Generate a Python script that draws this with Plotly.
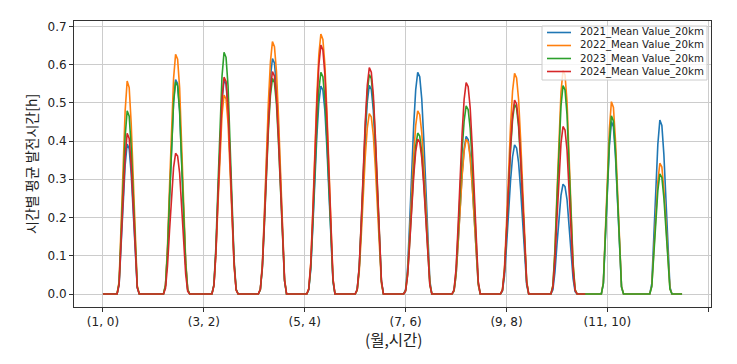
import plotly.graph_objects as go

# (month, hour) multi-index labels
months = list(range(1, 13))
hours = list(range(24))
index_labels = [(m, h) for m in months for h in hours]

Z = 0
# Hourly values per month, 24 values per row (hours 0..23)
y2021 = [
    [Z,Z,Z,Z,Z,Z,Z,Z, .024,.118,.235,.337,.392,.380,.314,.204,.086,.016, Z,Z,Z,Z,Z,Z],
    [Z,Z,Z,Z,Z,Z,Z, .022,.112,.252,.393,.505,.561,.550,.482,.359,.213,.079,.011, Z,Z,Z,Z,Z],
    [Z,Z,Z,Z,Z,Z,Z, .022,.112,.252,.392,.504,.560,.549,.482,.358,.213,.078,.011, Z,Z,Z,Z,Z],
    [Z,Z,Z,Z,Z,Z, .012,.074,.197,.339,.468,.567,.616,.604,.542,.431,.290,.142,.037, Z,Z,Z,Z,Z],
    [Z,Z,Z,Z,Z,Z, .011,.065,.174,.299,.413,.500,.544,.533,.479,.381,.256,.125,.033, Z,Z,Z,Z,Z],
    [Z,Z,Z,Z,Z,Z, .011,.066,.175,.300,.415,.502,.546,.535,.480,.382,.257,.126,.033, Z,Z,Z,Z,Z],
    [Z,Z,Z,Z,Z,Z, .012,.070,.186,.319,.441,.534,.580,.568,.510,.406,.273,.133,.035, Z,Z,Z,Z,Z],
    [Z,Z,Z,Z,Z,Z, .008,.049,.132,.227,.313,.379,.412,.404,.363,.288,.194,.095,.025, Z,Z,Z,Z,Z],
    [Z,Z,Z,Z,Z,Z, .008,.047,.125,.215,.296,.359,.390,.382,.343,.273,.183,.090,.023, Z,Z,Z,Z,Z],
    [Z,Z,Z,Z,Z,Z,Z, .011,.057,.129,.201,.258,.287,.281,.247,.184,.109,.040,.006, Z,Z,Z,Z,Z],
    [Z,Z,Z,Z,Z,Z,Z,Z, .027,.135,.271,.388,.451,.437,.361,.235,.099,.018, Z,Z,Z,Z,Z,Z],
    [Z,Z,Z,Z,Z,Z,Z,Z, .027,.137,.273,.391,.455,.441,.364,.237,.100,.018, Z,Z,Z,Z,Z,Z],
]
y2022 = [
    [Z,Z,Z,Z,Z,Z,Z,Z, .033,.167,.334,.479,.557,.540,.446,.290,.123,.022, Z,Z,Z,Z,Z,Z],
    [Z,Z,Z,Z,Z,Z,Z, .025,.125,.282,.439,.564,.627,.614,.539,.401,.238,.088,.013, Z,Z,Z,Z,Z],
    [Z,Z,Z,Z,Z,Z,Z, .021,.104,.234,.364,.468,.520,.510,.447,.333,.198,.073,.010, Z,Z,Z,Z,Z],
    [Z,Z,Z,Z,Z,Z, .013,.079,.211,.363,.502,.607,.660,.647,.581,.462,.310,.152,.040, Z,Z,Z,Z,Z],
    [Z,Z,Z,Z,Z,Z, .014,.082,.218,.374,.517,.626,.680,.666,.598,.476,.320,.156,.041, Z,Z,Z,Z,Z],
    [Z,Z,Z,Z,Z,Z, .009,.057,.151,.260,.359,.434,.472,.463,.415,.330,.222,.109,.028, Z,Z,Z,Z,Z],
    [Z,Z,Z,Z,Z,Z, .010,.057,.153,.263,.364,.441,.479,.469,.422,.335,.225,.110,.029, Z,Z,Z,Z,Z],
    [Z,Z,Z,Z,Z,Z, .008,.049,.130,.223,.308,.373,.405,.397,.356,.284,.190,.093,.024, Z,Z,Z,Z,Z],
    [Z,Z,Z,Z,Z,Z, .012,.069,.185,.317,.439,.531,.577,.565,.508,.404,.271,.133,.035, Z,Z,Z,Z,Z],
    [Z,Z,Z,Z,Z,Z,Z, .023,.117,.263,.410,.527,.585,.573,.503,.374,.222,.082,.012, Z,Z,Z,Z,Z],
    [Z,Z,Z,Z,Z,Z,Z,Z, .030,.151,.302,.433,.503,.488,.402,.262,.111,.020, Z,Z,Z,Z,Z,Z],
    [Z,Z,Z,Z,Z,Z,Z,Z, .021,.103,.205,.294,.342,.332,.274,.178,.075,.014, Z,Z,Z,Z,Z,Z],
]
y2023 = [
    [Z,Z,Z,Z,Z,Z,Z,Z, .029,.144,.287,.412,.479,.465,.383,.249,.105,.019, Z,Z,Z,Z,Z,Z],
    [Z,Z,Z,Z,Z,Z,Z, .022,.111,.250,.389,.500,.555,.544,.477,.355,.211,.078,.011, Z,Z,Z,Z,Z],
    [Z,Z,Z,Z,Z,Z,Z, .025,.126,.284,.442,.569,.632,.619,.544,.404,.240,.088,.013, Z,Z,Z,Z,Z],
    [Z,Z,Z,Z,Z,Z, .011,.068,.180,.310,.429,.519,.564,.553,.496,.395,.265,.130,.034, Z,Z,Z,Z,Z],
    [Z,Z,Z,Z,Z,Z, .012,.070,.186,.319,.441,.534,.580,.568,.510,.406,.273,.133,.035, Z,Z,Z,Z,Z],
    [Z,Z,Z,Z,Z,Z, .011,.069,.184,.316,.436,.528,.574,.563,.505,.402,.270,.132,.034, Z,Z,Z,Z,Z],
    [Z,Z,Z,Z,Z,Z, .008,.051,.135,.232,.320,.387,.421,.413,.370,.295,.198,.097,.025, Z,Z,Z,Z,Z],
    [Z,Z,Z,Z,Z,Z, .010,.059,.157,.271,.374,.453,.492,.482,.433,.344,.231,.113,.030, Z,Z,Z,Z,Z],
    [Z,Z,Z,Z,Z,Z, .010,.060,.159,.273,.377,.456,.496,.486,.436,.347,.233,.114,.030, Z,Z,Z,Z,Z],
    [Z,Z,Z,Z,Z,Z,Z, .022,.109,.245,.382,.491,.545,.534,.469,.349,.207,.076,.011, Z,Z,Z,Z,Z],
    [Z,Z,Z,Z,Z,Z,Z,Z, .028,.140,.280,.401,.466,.452,.373,.242,.103,.019, Z,Z,Z,Z,Z,Z],
    [Z,Z,Z,Z,Z,Z,Z,Z, .019,.094,.188,.270,.314,.305,.251,.163,.069,.013, Z,Z,Z,Z,Z,Z],
]
# 2024: data only through October
y2024 = [
    [Z,Z,Z,Z,Z,Z,Z,Z, .025,.126,.252,.361,.420,.407,.336,.218,.092,.017, Z,Z,Z,Z,Z,Z],
    [Z,Z,Z,Z,Z,Z,Z, .015,.074,.166,.258,.331,.368,.361,.316,.236,.140,.052,.007, Z,Z,Z,Z,Z],
    [Z,Z,Z,Z,Z,Z,Z, .023,.113,.255,.397,.510,.567,.556,.488,.363,.215,.079,.011, Z,Z,Z,Z,Z],
    [Z,Z,Z,Z,Z,Z, .012,.070,.186,.320,.442,.535,.582,.570,.512,.407,.274,.134,.035, Z,Z,Z,Z,Z],
    [Z,Z,Z,Z,Z,Z, .013,.078,.208,.358,.495,.599,.651,.638,.573,.456,.306,.150,.039, Z,Z,Z,Z,Z],
    [Z,Z,Z,Z,Z,Z, .012,.071,.189,.326,.450,.545,.592,.580,.521,.414,.278,.136,.036, Z,Z,Z,Z,Z],
    [Z,Z,Z,Z,Z,Z, .008,.049,.130,.223,.308,.373,.405,.397,.356,.284,.190,.093,.024, Z,Z,Z,Z,Z],
    [Z,Z,Z,Z,Z,Z, .011,.066,.177,.304,.420,.509,.553,.542,.487,.387,.260,.127,.033, Z,Z,Z,Z,Z],
    [Z,Z,Z,Z,Z,Z, .010,.061,.162,.279,.385,.466,.507,.497,.446,.355,.238,.117,.030, Z,Z,Z,Z,Z],
    [Z,Z,Z,Z,Z,Z,Z, .018,.088,.197,.307,.394,.438,.429,.377,.280,.166,.061,.009, Z,Z,Z,Z,Z],
]

series_names = ["2021_Mean Value_20km", "2022_Mean Value_20km",
                "2023_Mean Value_20km", "2024_Mean Value_20km"]
series_colors = ["#1f77b4", "#ff7f0e", "#2ca02c", "#d62728"]
series_data = [y2021, y2022, y2023, y2024]

tick_positions = [0, 50, 100, 150, 200, 250, 300]
tick_text = [f"({index_labels[p][0]}, {index_labels[p][1]})" if p < len(index_labels) else ""
             for p in tick_positions]
y_ticks = [0, 0.1, 0.2, 0.3, 0.4, 0.5, 0.6, 0.7]

# The page body has an 8px margin, so the figure is drawn 8px right/down.
OFF = 8
W, H = 737 - OFF, 364 - OFF
ML, MR, MT, MB = 74 - OFF, 26, 21 - OFF, 57
# plot area in screen pixels
PX0, PX1, PY0, PY1 = 74, 711, 21, 307


def px_x(px):
    return (px - PX0) / (PX1 - PX0)


def px_y(py):
    return (PY1 - py) / (PY1 - PY0)


fig = go.Figure()
for name, color, rows in zip(series_names, series_colors, series_data):
    vals = [v for row in rows for v in row]
    fig.add_trace(go.Scatter(
        x=list(range(len(vals))), y=vals, mode="lines", name=name,
        line=dict(color=color, width=1.6), showlegend=False,
    ))

font_kr = "Noto Sans CJK KR, sans-serif"
font_tick = "DejaVu Sans, sans-serif"

shapes = []
annotations = []
# legend box (matplotlib-style, upper right)
shapes.append(dict(type="rect", xref="paper", yref="paper",
                   x0=px_x(542), x1=px_x(707), y0=px_y(80), y1=px_y(26),
                   fillcolor="rgba(255,255,255,0.8)", line=dict(color="#cccccc", width=1),
                   layer="above"))
legend_rows = [32.5, 45.5, 58.5, 71.5]
for color, ry in zip(series_colors, legend_rows):
    shapes.append(dict(type="line", xref="paper", yref="paper",
                       x0=px_x(547), x1=px_x(571), y0=px_y(ry), y1=px_y(ry),
                       line=dict(color=color, width=1.6), layer="above"))
annotations.append(dict(text="<br>".join(series_names), xref="paper", yref="paper",
                        x=px_x(578), y=px_y(sum(legend_rows) / 4 + 0.5),
                        xanchor="left", yanchor="middle", align="left",
                        showarrow=False, font=dict(size=10.2, family=font_tick, color="#222")))
# axis titles
annotations.append(dict(text="(월,시간)", xref="paper", yref="paper",
                        x=px_x(394), y=px_y(338.5), xanchor="center", yanchor="middle",
                        showarrow=False, font=dict(size=15.5, family=font_kr, color="#222")))
annotations.append(dict(text="시간별 평균 발전시간[h]", xref="paper", yref="paper",
                        x=px_x(31), y=0.5, xanchor="center", yanchor="middle", textangle=-90,
                        showarrow=False, font=dict(size=14, family=font_kr, color="#222")))

fig.update_layout(
    width=W, height=H,
    margin=dict(l=ML, r=MR, t=MT, b=MB),
    paper_bgcolor="white", plot_bgcolor="white",
    font=dict(family=font_tick, size=12, color="#222"),
    showlegend=False,
    shapes=shapes, annotations=annotations,
    xaxis=dict(
        range=[-14.35, 301.35], automargin=False,
        tickmode="array", tickvals=tick_positions, ticktext=tick_text,
        showgrid=True, gridcolor="#cccccc", gridwidth=0.8,
        showline=True, linecolor="#333", linewidth=1, mirror=True,
        ticks="outside", ticklen=4, tickcolor="#333",
        zeroline=False, tickfont=dict(size=12, family=font_tick),
    ),
    yaxis=dict(
        range=[-0.034, 0.714], automargin=False,
        tickmode="array", tickvals=y_ticks, tickformat=".1f",
        showgrid=True, gridcolor="#cccccc", gridwidth=0.8,
        showline=True, linecolor="#333", linewidth=1, mirror=True,
        ticks="outside", ticklen=4, tickcolor="#333",
        zeroline=False, tickfont=dict(size=12, family=font_tick),
    ),
)

fig.write_html("out.html")
